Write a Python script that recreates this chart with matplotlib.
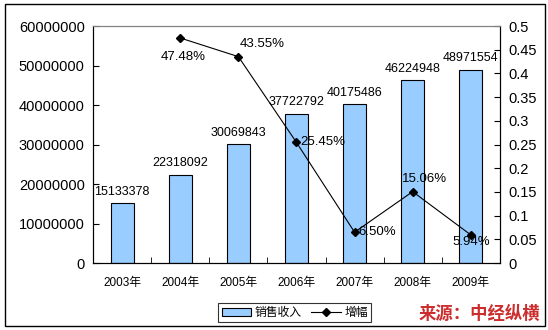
import matplotlib.pyplot as plt
from matplotlib.patches import Rectangle

plt.rcParams['font.family'] = ['Liberation Sans', 'Noto Sans CJK SC']

years = ['2003年', '2004年', '2005年', '2006年', '2007年', '2008年', '2009年']
revenue = [15133378, 22318092, 30069843, 37722792, 40175486, 46224948, 48971554]
growth = [None, 0.4748, 0.4355, 0.2545, 0.0650, 0.1506, 0.0594]
growth_labels = ['', '47.48%', '43.55%', '25.45%', '6.50%', '15.06%', '5.94%']
left_ticks = [0, 10000000, 20000000, 30000000, 40000000, 50000000, 60000000]
right_ticks = [0, 0.05, 0.1, 0.15, 0.2, 0.25, 0.3, 0.35, 0.4, 0.45, 0.5]

fig = plt.figure(figsize=(5.48, 3.3), dpi=100)
ax1 = fig.add_axes([0.170, 0.203, 0.742, 0.718])

x = list(range(len(years)))
bars = ax1.bar(x, revenue, width=0.4, color='#99CCFF', edgecolor='black',
               linewidth=0.8, label='销售收入', zorder=2)
for xi, v in zip(x, revenue):
    ax1.annotate(str(v), (xi, v), xytext=(0, 4), textcoords='offset points',
                 ha='center', va='bottom', fontsize=9)

ax1.set_xlim(-0.5, len(years) - 0.5)
ax1.set_ylim(0, 60000000)
ax1.set_yticks(left_ticks)
ax1.set_yticklabels([str(t) for t in left_ticks], fontsize=10.5)
ax1.set_xticks(x)
ax1.set_xticklabels(years, fontsize=8.5)
ax1.set_xticks([i + 0.5 for i in x[:-1]], minor=True)
ax1.tick_params(axis='x', which='major', length=0, pad=10)
ax1.tick_params(axis='x', which='minor', length=4, direction='in')
ax1.tick_params(axis='y', length=4, direction='in', pad=6)
ax1.spines['top'].set_color('#808080')

ax2 = ax1.twinx()
gx = [xi for xi, g in zip(x, growth) if g is not None]
gy = [g for g in growth if g is not None]
line, = ax2.plot(gx, gy, color='black', linewidth=0.8, marker='D',
                 markersize=4, label='增幅', zorder=3)
ax2.set_ylim(0, 0.5)
ax2.set_yticks(right_ticks)
ax2.set_yticklabels([f'{t:g}' for t in right_ticks], fontsize=10.5)
ax2.tick_params(axis='y', length=4, direction='in', pad=6)
ax2.spines['top'].set_color('#808080')

offsets = [None, (-14, -14), (1, 9), (3, 0), (3, 0), (-8, 9), (-13, -5)]
for xi, g, lab, off in zip(x, growth, growth_labels, offsets):
    if g is None:
        continue
    ax2.annotate(lab, (xi, g), xytext=off, textcoords='offset points',
                 ha='left', va='center', fontsize=9.5)

leg = fig.legend([bars, line], ['销售收入', '增幅'], loc='center',
                 bbox_to_anchor=(0.538, 0.052), ncol=2, fontsize=8.5,
                 frameon=True, fancybox=False, edgecolor='black',
                 handlelength=2.5, columnspacing=0.8, handletextpad=0.3,
                 borderpad=0.3)
leg.get_frame().set_linewidth(0.8)

fig.text(0.985, 0.048, '来源：中经纵横', color='#CC2E2E', fontsize=12.5,
         fontweight='bold', ha='right', va='center',
         family=['Noto Sans CJK SC'])

fig.patches.append(Rectangle((0.009, 0.012), 0.985, 0.975,
                             transform=fig.transFigure, fill=False,
                             edgecolor='black', linewidth=1))

fig.savefig('out.png', dpi=100)
